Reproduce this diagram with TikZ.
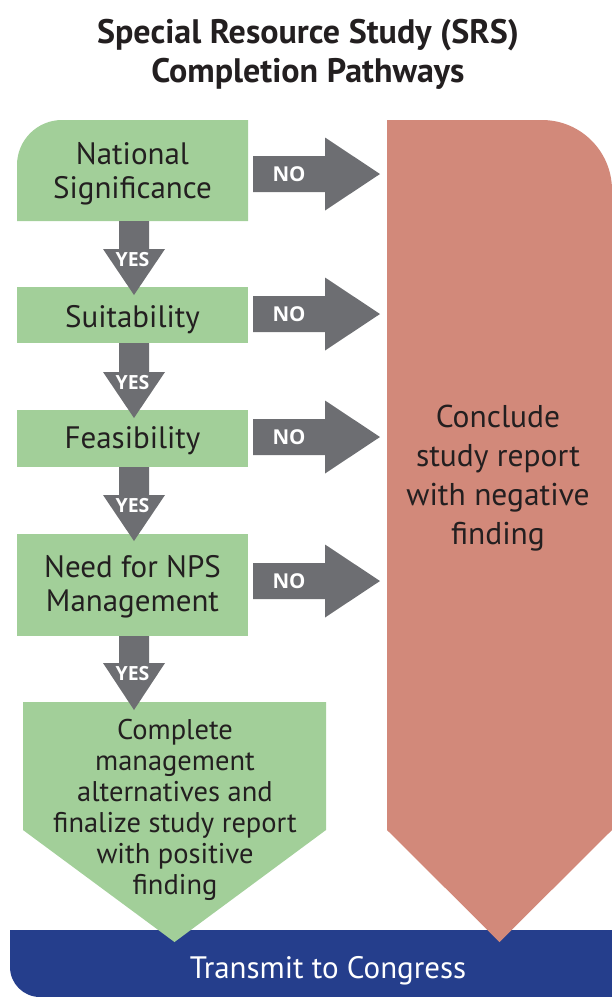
\documentclass[tikz,border=0pt]{standalone}
\usepackage{fontspec}
\setmainfont{PT Sans}
\newfontfamily\lblfont{Open Sans}[BoldFont={* Bold}]
\definecolor{gfill}{RGB}{162,207,153}
\definecolor{arrgray}{RGB}{109,110,114}
\definecolor{salmon}{RGB}{210,137,122}
\definecolor{navy}{RGB}{37,62,140}
\definecolor{ink}{RGB}{35,31,32}
\newcommand\yesarr[4]{%
  \fill[arrgray] (119,#1) -- (149,#1) -- (149,#2) -- (165,#2) -- (134,#3) -- (103,#2) -- (119,#2) -- cycle;
  \node[yeslbl] (#4) at (132.5,#2+17) {YES};}
\newcommand\noarr[2]{%
  \fill[arrgray] (253,#1-18) -- (325,#1-18) -- (325,#1-36.5) -- (380,#1) -- (325,#1+36.5) -- (325,#1+18) -- (253,#1+18) -- cycle;
  \node[nolbl] (#2) at (289,#1+7.5) {NO};}
\begin{document}
\begin{tikzpicture}[x=1pt,y=-1pt,
  btext/.style={text=ink, align=center, inner sep=0, anchor=base, font=\fontsize{31}{34}\selectfont},
  yeslbl/.style={text=white, inner sep=0, anchor=base, font=\lblfont\bfseries\fontsize{19.5}{20}\selectfont},
  nolbl/.style={text=white, inner sep=0, anchor=base, font=\lblfont\bfseries\fontsize{20.5}{20}\selectfont}]
\useasboundingbox (0,0) rectangle (612,997);
% title (anchor base = baseline of last line)
\node[text=ink, align=center, inner sep=0, anchor=base, font=\bfseries\fontsize{34}{39}\selectfont] (title) at (308,82) {Special Resource Study (SRS)\\Completion Pathways};
% blue bar
\fill[navy] (10,930) -- (612,930) -- (612,997) -- (40,997) arc[start angle=90,end angle=180,radius=30] -- cycle;
\node[text=white, inner sep=0, anchor=base, font=\fontsize{31}{34}\selectfont] (congress) at (328,978) {Transmit to Congress};
% salmon column
\fill[salmon] (387,830) -- (387,120) -- (542,120) arc[start angle=270,end angle=360,radius=70] -- (612,830) -- (499.5,942) -- cycle;
\node[btext, font=\fontsize{31.5}{39}\selectfont] (neg) at (498,544) {Conclude\\study report\\with negative\\finding};
% green boxes
\fill[gfill] (17,221) -- (17,165) arc[start angle=180,end angle=270,radius=45] -- (248,120) -- (248,221) -- cycle;
\node[btext] (nat) at (132.5,198) {National\\Significance};
\fill[gfill] (17,287) rectangle (248,343);
\node[btext] (suit) at (132.5,327) {Suitability};
\fill[gfill] (17,410) rectangle (248,467);
\node[btext] (feas) at (132.5,448) {Feasibility};
\fill[gfill] (17,534) rectangle (248,636);
\node[btext] (need) at (132.5,611.5) {Need for NPS\\Management};
\fill[gfill] (23,702) -- (326,702) -- (326,830) -- (174.5,942) -- (23,830) -- cycle;
\node[btext, font=\fontsize{28.5}{31}\selectfont] (pos) at (175,894) {Complete\\management\\alternatives and\\finalize study report\\with positive\\finding};
% arrows
\yesarr{221}{249}{295}{y1}
\yesarr{343}{372}{418}{y2}
\yesarr{467}{495}{541}{y3}
\yesarr{636}{663}{710}{y4}
\noarr{174}{n1}
\noarr{314}{n2}
\noarr{437}{n3}
\noarr{581}{n4}
\end{tikzpicture}
\end{document}
